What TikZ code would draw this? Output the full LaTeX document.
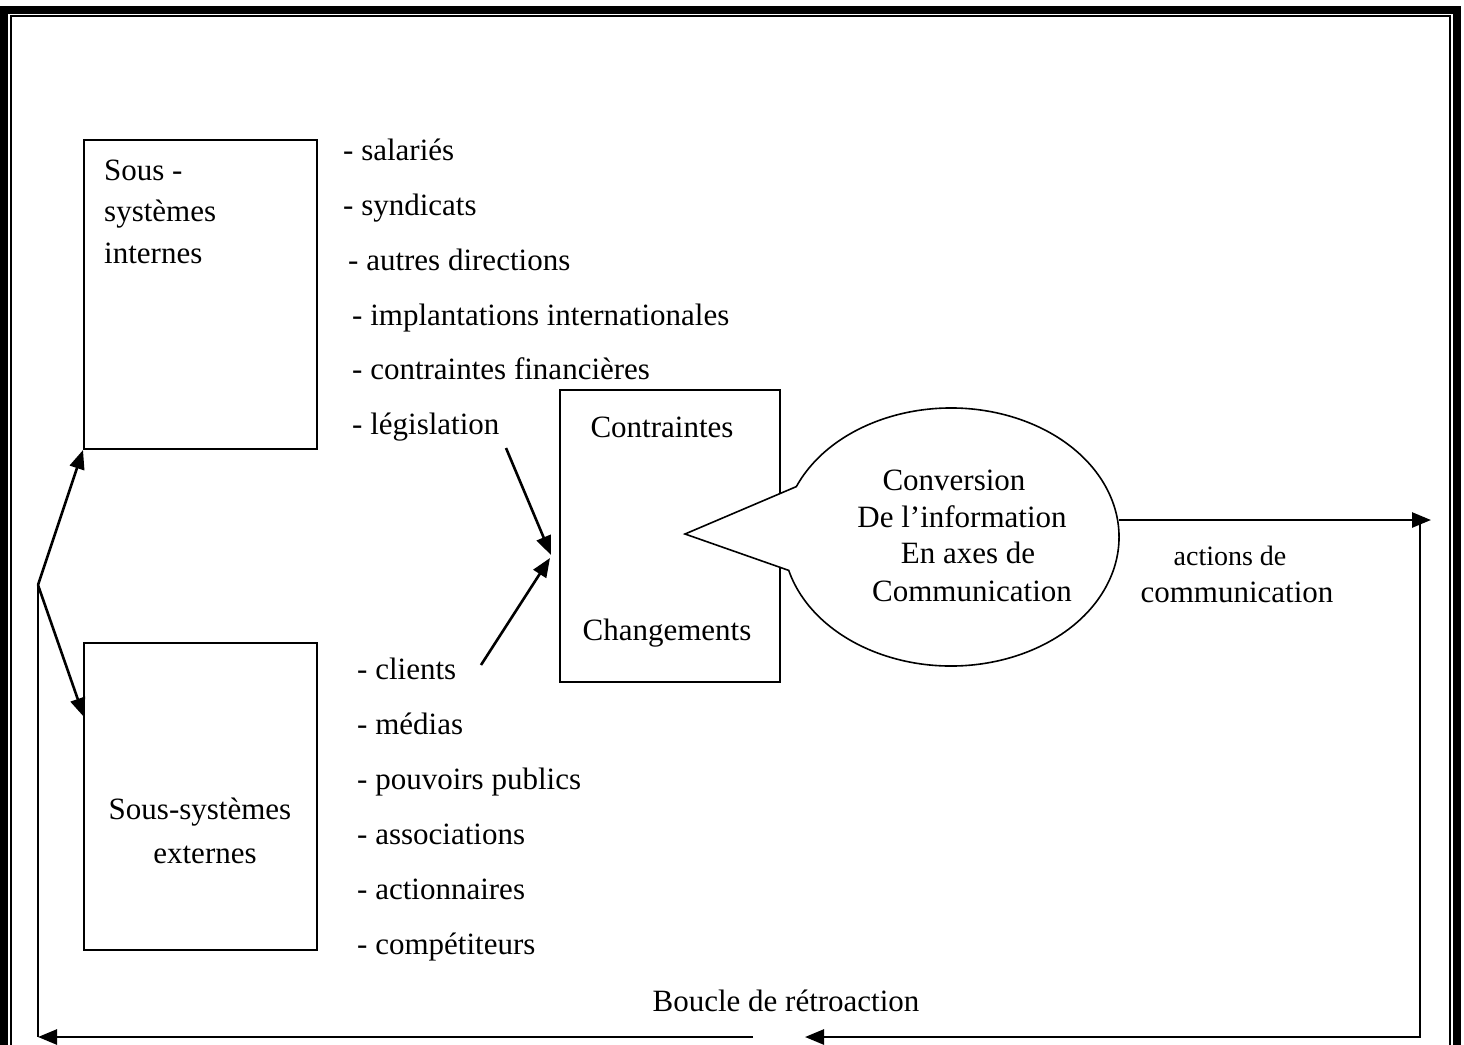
\documentclass[tikz,border=0pt]{standalone}
\usepackage{fontspec}
\setmainfont{Liberation Serif}
\usetikzlibrary{arrows.meta, calc}

\begin{document}
\begin{tikzpicture}[x = 1pt, y = 1pt,
  every node/.style = {font = \fontsize{31}{37}\selectfont, inner sep = 0pt},
  sysbox/.style = {draw, line width = 2pt, rectangle},
  lbl/.style = {anchor = base west},
  arr/.style = {line width = 2.6pt, -{Triangle[length = 19pt, width = 15pt]}}]
\useasboundingbox (0, 0) rectangle (1464, -1044);
\clip (0, 0) rectangle (1464, -1044);
% frame
\draw[line width = 8pt] (4, -10) rectangle (1457, -1070);
\draw[line width = 2pt] (11, -16) rectangle (1450, -1070);
% boxes
\node[sysbox, minimum width = 233pt, minimum height = 309pt] (intbox) at (200.5, -294.5) {};
\node[sysbox, minimum width = 233pt, minimum height = 307pt] (extbox) at (200.5, -796.5) {};
\node[sysbox, minimum width = 220pt, minimum height = 292pt] (cc) at (670, -536) {};
\node[lbl] (int1) at (104, -180) {Sous -};
\node[lbl] (int2) at (104, -221) {systèmes};
\node[lbl] (int3) at (104, -263) {internes};
\node[anchor = base] (ext1) at (200, -819) {Sous-systèmes};
\node[anchor = base] (ext2) at (205, -863) {externes};
\node[anchor = base] (cc1) at (662, -437) {Contraintes};
\node[anchor = base] (cc2) at (667, -640) {Changements};
% internal list
\node[lbl] (sal) at (343, -160) {- salariés};
\node[lbl] (syn) at (343, -215) {- syndicats};
\node[lbl] (dir) at (348, -270) {- autres directions};
\node[lbl] (imp) at (352, -325) {- implantations internationales};
\node[lbl] (fin) at (352, -379) {- contraintes financières};
\node[lbl] (leg) at (352, -434) {- législation};
% external list
\node[lbl] (cli) at (357, -679) {- clients};
\node[lbl] (med) at (357, -734) {- médias};
\node[lbl] (pub) at (357, -789) {- pouvoirs publics};
\node[lbl] (ass) at (357, -844) {- associations};
\node[lbl] (act) at (357, -899) {- actionnaires};
\node[lbl] (cmp) at (357, -954) {- compétiteurs};
% callout
\coordinate (ellc) at (951, -537);
\coordinate (tip) at (685, -534);
\filldraw[fill = white, line width = 1.6pt] (ellc) ++(157:168pt and 129pt)
  arc[start angle = 157, end angle = -165, x radius = 168pt, y radius = 129pt] -- (tip) -- cycle;
\node[anchor = base] (conv1) at (954, -490) {Conversion};
\node[anchor = base] (conv2) at (962, -527) {De l’information};
\node[anchor = base] (conv3) at (968, -563) {En axes de};
\node[anchor = base] (conv4) at (972, -601) {Communication};
\node[anchor = base, font = \fontsize{28}{34}\selectfont] (actn1) at (1230, -565) {actions de};
\node[anchor = base] (actn2) at (1237, -602) {communication};
\node[anchor = base] (loop) at (786, -1011) {Boucle de rétroaction};
% connectors
\coordinate (fork) at (38, -585);
\coordinate (extin) at (84, -717);
\coordinate (botL) at (38, -1037);
\coordinate (midL) at (753, -1037);
\coordinate (midR) at (805, -1037);
\coordinate (botR) at (1420, -1037);
\coordinate (outR) at (1119, -520);
\coordinate (endR) at (1431, -520);
\coordinate (turnR) at (1420, -520);
\coordinate (legout) at (506, -448);
\coordinate (cliout) at (481, -665);
\coordinate (ccin1) at (551, -555);
\coordinate (ccin2) at (550, -558);
\draw[arr] (fork) -- (intbox.south west);
\draw[arr] (fork) -- (extin);
\draw[line width = 2.6pt] (fork) -- (botL);
\draw[arr] (midL) -- (botL);
\draw[arr] (turnR) -- (botR) -- (midR);
\draw[arr] (outR) -- (endR);
\draw[arr] (legout) -- (ccin1);
\draw[arr] (cliout) -- (ccin2);
\end{tikzpicture}
\end{document}
